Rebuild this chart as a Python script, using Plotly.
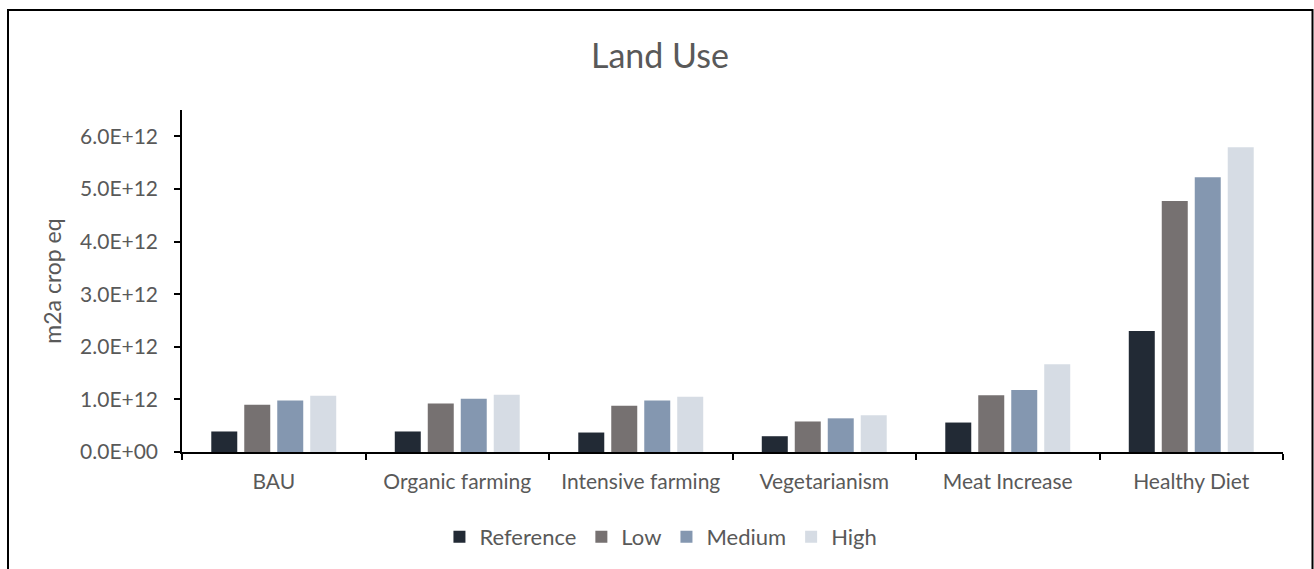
import plotly.graph_objects as go

categories = ["BAU", "Organic farming", "Intensive farming", "Vegetarianism", "Meat Increase", "Healthy Diet"]
series_names = ["Reference", "Low", "Medium", "High"]
reference = [0.39e12, 0.39e12, 0.37e12, 0.30e12, 0.56e12, 2.30e12]
low = [0.90e12, 0.92e12, 0.88e12, 0.58e12, 1.08e12, 4.77e12]
medium = [0.98e12, 1.01e12, 0.98e12, 0.64e12, 1.18e12, 5.22e12]
high = [1.07e12, 1.09e12, 1.05e12, 0.70e12, 1.67e12, 5.79e12]
colors = ["#222A35", "#767171", "#8497B0", "#D6DCE4"]
ytick_vals = [0, 1e12, 2e12, 3e12, 4e12, 5e12, 6e12]
ytick_text = ["0.0E+00", "1.0E+12", "2.0E+12", "3.0E+12", "4.0E+12", "5.0E+12", "6.0E+12"]

W, H = 1314, 569
L, R, T, B = 182, 31, 110, 117
FONT = "Lato"
GREY = "#595959"

fig = go.Figure()
for name, vals, col in zip(series_names, [reference, low, medium, high], colors):
    fig.add_trace(go.Bar(x=categories, y=vals, name=name, marker=dict(color=col, line=dict(width=0))))

pw = W - L - R
ph = H - T - B
fig.update_layout(
    width=W, height=H,
    margin=dict(l=L, r=R, t=T, b=B, pad=0),
    paper_bgcolor="white", plot_bgcolor="white",
    barmode="group", bargap=0.281, bargroupgap=0.212,
    font=dict(family=FONT, color=GREY, size=21),
    title=dict(text="Land Use", x=660 / W, xanchor="center", xref="container",
               y=1 - 56 / H, yanchor="middle", yref="container",
               font=dict(size=34, color=GREY, family=FONT)),
    showlegend=True,
    legend=dict(orientation="h", xref="container", yref="container",
                x=0.5030, xanchor="center", y=1 - 537 / H, yanchor="middle",
                font=dict(size=22, color=GREY, family=FONT), bgcolor="rgba(0,0,0,0)"),
    xaxis=dict(type="category", showgrid=False, showline=True, linecolor="black", linewidth=1.5,
               ticks="outside", tickson="boundaries", ticklen=6, tickcolor="black", tickwidth=1.5,
               tickfont=dict(size=21, color=GREY, family=FONT), ticklabelstandoff=10),
    yaxis=dict(range=[0, 6.5e12], showgrid=False, showline=True, linecolor="black", linewidth=1.5,
               ticks="outside", ticklen=6, tickcolor="black", tickwidth=1.5,
               tickvals=ytick_vals, ticktext=ytick_text, zeroline=False,
               tickfont=dict(size=21, color=GREY, family=FONT), ticklabelstandoff=12,
               title=dict(text="m2a crop eq", font=dict(size=23, color=GREY, family=FONT), standoff=12)),
    shapes=[dict(type="rect", xref="paper", yref="paper",
                 x0=(8 - L) / pw, x1=(1312.5 - L) / pw,
                 y0=(H - T - 600) / ph, y1=(H - B - 10) / ph,
                 line=dict(color="black", width=2), fillcolor="rgba(0,0,0,0)", layer="above")],
)
fig.write_html("out.html")
